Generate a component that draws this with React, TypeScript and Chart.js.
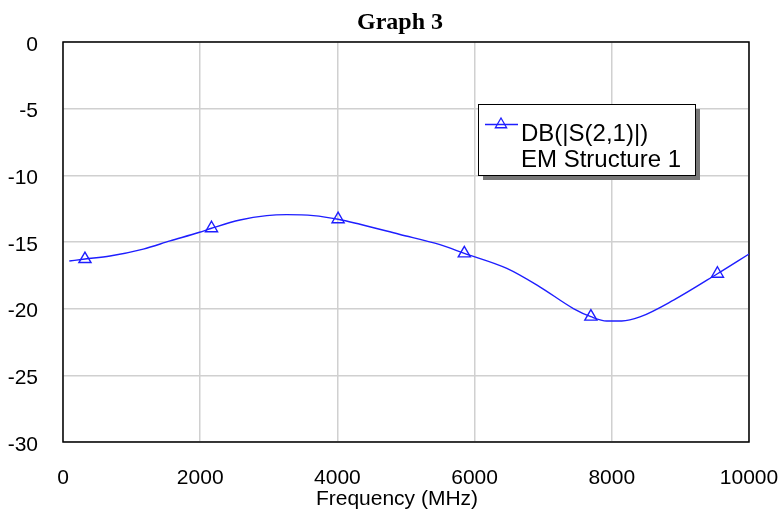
import { useEffect, useRef } from "react";
import { Chart, registerables } from "chart.js";

Chart.register(...registerables);

const freqMHz = [92, 320, 685, 1170, 1560, 1990, 2165, 2580, 2970, 3260, 3650, 4010, 4330, 4900, 5495, 5850, 6470, 6950, 7440, 7695, 7925, 8145, 8410, 8900, 9540, 10000];
const s21dB = [-16.43, -16.28, -16.05, -15.53, -14.92, -14.27, -13.97, -13.35, -13.02, -12.95, -13.02, -13.29, -13.67, -14.42, -15.2, -15.85, -16.98, -18.36, -19.99, -20.6, -20.92, -20.92, -20.62, -19.36, -17.38, -15.9];
const markerFreqs = [320, 2165, 4010, 5850, 7695, 9540];
const xTicks = [0, 2000, 4000, 6000, 8000, 10000];
const yTicks = [0, -5, -10, -15, -20, -25, -30];
const chartTitle = "Graph 3";
const xAxisTitle = "Frequency (MHz)";
const legendLines = ["DB(|S(2,1)|)", "EM Structure 1"];

const BLUE = "rgb(30,30,255)";
const SANS = "'Liberation Sans', Arial, sans-serif";

function drawTriangle(ctx: CanvasRenderingContext2D, x: number, y: number, r: number) {
  ctx.beginPath();
  let a = 0;
  ctx.moveTo(x + Math.sin(a) * r, y - Math.cos(a) * r);
  a += (2 * Math.PI) / 3;
  ctx.lineTo(x + Math.sin(a) * r, y - Math.cos(a) * r);
  a += (2 * Math.PI) / 3;
  ctx.lineTo(x + Math.sin(a) * r, y - Math.cos(a) * r);
  ctx.closePath();
  ctx.stroke();
}

const framePlugin = {
  id: "frame",
  beforeDatasetsDraw(chart: any) {
    const { ctx, chartArea: a } = chart;
    ctx.save();
    ctx.strokeStyle = "#000";
    ctx.lineWidth = 1.5;
    ctx.strokeRect(a.left, a.top, a.right - a.left, a.bottom - a.top);
    ctx.restore();
  },
  afterDraw(chart: any) {
    const { ctx, chartArea: a } = chart;
    ctx.save();
    // title
    ctx.fillStyle = "#000";
    ctx.font = "bold 24px 'Liberation Serif', 'Times New Roman', serif";
    ctx.textAlign = "center";
    ctx.textBaseline = "alphabetic";
    ctx.fillText(chartTitle, 400, 29);
    // x axis title
    ctx.font = "21px " + SANS;
    ctx.fillText(xAxisTitle, (a.left + a.right) / 2 - 9, 505);
    // legend
    const lx = a.left + 415;
    const ly = 104;
    const w = 217;
    const h = 71;
    ctx.fillStyle = "#777";
    ctx.fillRect(lx + 5, ly + 5, w, h);
    ctx.fillStyle = "#fff";
    ctx.fillRect(lx, ly, w, h);
    ctx.strokeStyle = "#000";
    ctx.lineWidth = 1;
    ctx.strokeRect(lx + 0.5, ly + 0.5, w, h);
    ctx.strokeStyle = BLUE;
    ctx.lineWidth = 1.3;
    ctx.beginPath();
    ctx.moveTo(lx + 7, ly + 20.5);
    ctx.lineTo(lx + 40, ly + 20.5);
    ctx.stroke();
    drawTriangle(ctx, lx + 23, ly + 20.5, 6.5);
    ctx.fillStyle = "#000";
    ctx.font = "24px " + SANS;
    ctx.textAlign = "left";
    ctx.fillText(legendLines[0], lx + 43, ly + 37);
    ctx.fillText(legendLines[1], lx + 43, ly + 63);
    ctx.restore();
  },
};

export default function App() {
  const ref = useRef<HTMLCanvasElement | null>(null);
  useEffect(() => {
    document.body.style.margin = "0";
    const canvas = ref.current;
    if (!canvas) return;
    const chart = new Chart(canvas, {
      type: "line",
      data: {
        datasets: [
          {
            label: legendLines.join(" "),
            data: freqMHz.map((f, i) => ({ x: f, y: s21dB[i] })),
            borderColor: BLUE,
            borderWidth: 1.4,
            cubicInterpolationMode: "monotone",
            pointStyle: "triangle",
            pointRadius: (c: any) => (markerFreqs.includes(freqMHz[c.dataIndex]) ? 7 : 0),
            pointHoverRadius: 0,
            pointBorderColor: BLUE,
            pointBackgroundColor: "rgba(0,0,0,0)",
            pointBorderWidth: 1.4,
          },
        ],
      },
      options: {
        animation: false,
        responsive: true,
        maintainAspectRatio: false,
        layout: { padding: { top: 42, right: 33, left: 0, bottom: 0 } },
        plugins: { legend: { display: false }, title: { display: false }, tooltip: { enabled: false } },
        scales: {
          x: {
            type: "linear",
            min: 0,
            max: 10000,
            afterBuildTicks: (s: any) => {
              s.ticks = xTicks.map((v) => ({ value: v }));
            },
            afterFit: (s: any) => {
              s.height = 74;
              s.paddingLeft = 0;
              s.paddingRight = 0;
            },
            grid: { color: "#d0d0d0", lineWidth: 1.5, drawTicks: false },
            border: { display: false },
            ticks: {
              color: "#000",
              font: { family: SANS, size: 21 },
              padding: 24,
              maxRotation: 0,
              autoSkip: false,
              callback: (v: any) => String(v),
            },
          },
          y: {
            type: "linear",
            min: -30,
            max: 0,
            afterBuildTicks: (s: any) => {
              s.ticks = yTicks.map((v) => ({ value: v }));
            },
            afterFit: (s: any) => {
              s.width = 63;
              s.paddingTop = 0;
              s.paddingBottom = 0;
            },
            grid: { color: "#d0d0d0", lineWidth: 1.5, drawTicks: false },
            border: { display: false },
            ticks: {
              color: "#000",
              font: { family: SANS, size: 21 },
              padding: 25,
              labelOffset: 3,
              autoSkip: false,
              callback: (v: any) => String(v),
            },
          },
        },
      },
      plugins: [framePlugin],
    });
    return () => chart.destroy();
  }, []);
  return (
    <div style={{ position: "relative", width: 782, height: 516 }}>
      <canvas ref={ref} />
    </div>
  );
}
